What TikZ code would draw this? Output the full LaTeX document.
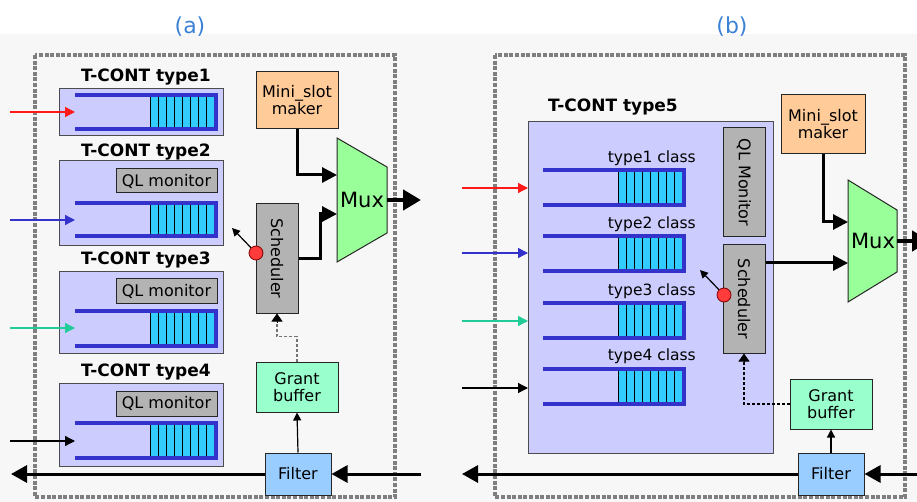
\documentclass[tikz,border=0pt]{standalone}
\usepackage{fontspec}
\setmainfont{DejaVu Sans}
\usetikzlibrary{arrows.meta}
\definecolor{tcfill}{HTML}{CCCCFF}
\definecolor{qblue}{HTML}{3333CC}
\definecolor{cellc}{HTML}{33CCFF}
\definecolor{qlgray}{HTML}{B3B3B3}
\definecolor{minic}{HTML}{FFCC99}
\definecolor{grantc}{HTML}{99FFCC}
\definecolor{filterc}{HTML}{99CCFF}
\definecolor{muxc}{HTML}{99FF99}
\definecolor{framec}{HTML}{7F7F7F}
\definecolor{titlec}{HTML}{3B82D6}
\definecolor{arred}{HTML}{FF1A1A}
\definecolor{arblue}{HTML}{3333CC}
\definecolor{arteal}{HTML}{22CC99}
\definecolor{dotred}{HTML}{FF3B3B}
\definecolor{bgc}{HTML}{F7F7F7}

% FIFO queue: left end, right bar, first cell, top bar, bottom bar
\newcommand\fifoq[5]{%
  \fill[cellc] (#3,#4) rectangle (#2,#5);
  \foreach \k in {0,...,7}
    \draw[line width=1pt] ({#3+8*\k},#4) -- ({#3+8*\k},#5);
  \draw[qbar] (#1,#4) -- (#2,#4) -- (#2,#5) -- (#1,#5);
}

\begin{document}
\begin{tikzpicture}[x=1pt,y=-1pt,
  frm/.style={draw=framec, line width=3.5pt, dash pattern=on 4pt off 1.6pt},
  tcbox/.style={draw=black!70, fill=tcfill, line width=0.9pt, inner sep=0pt},
  tclabel/.style={font=\fontsize{17}{20}\selectfont\bfseries, anchor=base, inner sep=0pt},
  clslabel/.style={font=\fontsize{15.5}{18}\selectfont, anchor=base east, inner sep=0pt},
  blk/.style={draw=black!85, line width=1pt, inner sep=0pt, align=center,
    font=\fontsize{16}{17}\selectfont},
  qlbox/.style={blk, fill=qlgray},
  qbar/.style={draw=qblue, line width=4pt, line join=miter},
  inarr/.style={line width=1.3pt, -{Triangle[length=10pt,width=10pt]}},
  thk/.style={line width=3pt, -{Triangle[length=15pt,width=15pt]}},
  outarr/.style={line width=4.5pt, -{Triangle[length=18pt,width=20pt]}},
  bus/.style={line width=3pt, -{Triangle[length=16pt,width=17pt]}},
  thn/.style={line width=1.2pt, -{Triangle[length=8pt,width=8pt]}},
  uphead/.style={line width=1pt, -{Triangle[length=8pt,width=11pt]}},
  dotc/.style={circle, draw=red!50!black, fill=dotred, line width=0.8pt,
    minimum size=14pt, inner sep=0pt},
  title/.style={text=titlec, font=\fontsize{22}{24}\selectfont}
]
\useasboundingbox (0,0) rectangle (917,502);
\fill[white] (0,0) rectangle (917,502);
\fill[bgc] (0,34) rectangle (917,502);

% ---------------- (a) ----------------
\node[title] (ta) at (190,27) {(a)};
\draw[frm] (35,55) rectangle (395,497);

\node[tclabel] (l1) at (146,82) {T-CONT type1};
\node[tcbox, minimum width=164pt, minimum height=47pt] (t1) at (141,111.5) {};
\node[tclabel] (l2) at (146,157) {T-CONT type2};
\node[tcbox, minimum width=164pt, minimum height=85pt] (t2) at (141,202.5) {};
\node[tclabel] (l3) at (146,265) {T-CONT type3};
\node[tcbox, minimum width=164pt, minimum height=82pt] (t3) at (141,312) {};
\node[tclabel] (l4) at (146,376) {T-CONT type4};
\node[tcbox, minimum width=164pt, minimum height=83pt] (t4) at (141,424.5) {};

\node[qlbox, minimum width=101pt, minimum height=24pt] (q2) at (166.5,181) {QL monitor};
\node[qlbox, minimum width=101pt, minimum height=24pt] (q3) at (166.5,291) {QL monitor};
\node[qlbox, minimum width=101pt, minimum height=25pt] (q4) at (166.5,403.5) {QL monitor};

\fifoq{75}{216}{150}{95}{129}
\fifoq{75}{216}{150}{203}{236}
\fifoq{75}{216}{150}{311}{346}
\fifoq{75}{216}{150}{423}{458}

\coordinate (a1s) at (10,112);  \coordinate (a1e) at (75,112);
\coordinate (a2s) at (10,220);  \coordinate (a2e) at (75,220);
\coordinate (a3s) at (10,328);  \coordinate (a3e) at (75,328);
\coordinate (a4s) at (10,441);  \coordinate (a4e) at (75,441);
\draw[inarr, arred] (a1s) -- (a1e);
\draw[inarr, arblue] (a2s) -- (a2e);
\draw[inarr, arteal] (a3s) -- (a3e);
\draw[inarr, black] (a4s) -- (a4e);

\node[blk, fill=minic, minimum width=82pt, minimum height=57pt] (miniA) at (297,100.5) {Mini\_slot\\maker};
\node[blk, fill=qlgray, minimum width=42pt, minimum height=109pt] (schA) at (277,258.5) {\rotatebox{-90}{Scheduler}};
\node[blk, fill=grantc, minimum width=82pt, minimum height=50pt] (grA) at (297,387) {Grant\\buffer};
\node[blk, fill=filterc, minimum width=66pt, minimum height=42pt] (filA) at (298,474) {Filter};

% multiplexer
\draw[fill=muxc, draw=black!85, line width=1pt] (337,138) -- (387,167) -- (387,233) -- (337,262) -- cycle;
\node[font=\fontsize{21}{24}\selectfont, inner sep=0pt] (muxA) at (362,200) {Mux};
\coordinate (muxAin1) at (337,175);
\coordinate (muxAin2) at (337,214);
\coordinate (muxAout) at (387,200);
\coordinate (outA) at (421,200);

\draw[thk] (miniA.south) |- (muxAin1);
\draw[thk] (schA.east) -- ++(22,0) |- (muxAin2);
\draw[outarr] (muxAout) -- (outA);

\node[dotc] (rcA) at (256,253) {};
\coordinate (rcAt) at (232,228);
\draw[thn] (rcA) -- (rcAt);

\draw[thn] (filA.north) -- (grA.south);
\draw[line width=1.5pt, draw=black!55, dash pattern=on 3pt off 2pt]
  (grA.north) -- ++(0,-25) -| ([yshift=-8pt]schA.south);
\draw[uphead] ([yshift=-9pt]schA.south) -- (schA.south);

\coordinate (busAin) at (421,474);
\coordinate (busAout) at (11,474);
\draw[bus] (busAin) -- (filA.east);
\draw[bus] (filA.west) -- (busAout);

% ---------------- (b) ----------------
\node[title] (tb) at (732,27) {(b)};
\draw[frm] (495,55) rectangle (905,497);

\node[tclabel] (l5) at (613,112) {T-CONT type5};
\node[tcbox, minimum width=245pt, minimum height=332pt] (t5) at (650.5,287) {};

\node[clslabel] (c1) at (696,163) {type1 class};
\node[clslabel] (c2) at (696,229) {type2 class};
\node[clslabel] (c3) at (696,295) {type3 class};
\node[clslabel] (c4) at (696,360) {type4 class};

\fifoq{543}{684}{618}{170}{205}
\fifoq{543}{684}{618}{236}{271}
\fifoq{543}{684}{618}{303}{338}
\fifoq{543}{684}{618}{369}{404}

\coordinate (b1s) at (462,188);  \coordinate (b1e) at (528,188);
\coordinate (b2s) at (462,253);  \coordinate (b2e) at (528,253);
\coordinate (b3s) at (462,321);  \coordinate (b3e) at (528,321);
\coordinate (b4s) at (462,388);  \coordinate (b4e) at (528,388);
\draw[inarr, arred] (b1s) -- (b1e);
\draw[inarr, arblue] (b2s) -- (b2e);
\draw[inarr, arteal] (b3s) -- (b3e);
\draw[inarr, black] (b4s) -- (b4e);

\node[qlbox, minimum width=42pt, minimum height=109pt] (qB) at (744,182.5) {\rotatebox{-90}{QL Monitor}};
\node[blk, fill=qlgray, minimum width=42pt, minimum height=108pt] (schB) at (744,299) {\rotatebox{-90}{Scheduler}};
\node[blk, fill=minic, minimum width=84pt, minimum height=59pt] (miniB) at (823,124.5) {Mini\_slot\\maker};
\node[blk, fill=grantc, minimum width=82pt, minimum height=50pt] (grB) at (831,404) {Grant\\buffer};
\node[blk, fill=filterc, minimum width=66pt, minimum height=42pt] (filB) at (831,474) {Filter};

\draw[fill=muxc, draw=black!85, line width=1pt] (848,180) -- (897,210) -- (897,272) -- (848,302) -- cycle;
\node[font=\fontsize{21}{24}\selectfont, inner sep=0pt] (muxB) at (873,241) {Mux};
\coordinate (muxBin1) at (848,222);
\coordinate (muxBin2) at (848,263);
\coordinate (muxBout) at (897,241);
\coordinate (outB) at (930,241);

\draw[thk] (miniB.south) |- (muxBin1);
\draw[thk] (schB.east |- muxBin2) -- (muxBin2);
\draw[outarr] (muxBout) -- (outB);

\node[dotc] (rcB) at (724,295) {};
\coordinate (rcBt) at (700,270);
\draw[thn] (rcB) -- (rcBt);

\draw[thn] (filB.north) -- (grB.south);
\draw[line width=1.2pt, dash pattern=on 3pt off 2pt] (grB.west) -| ([yshift=-8pt]schB.south);
\draw[uphead] ([yshift=-9pt]schB.south) -- (schB.south);

\coordinate (busBin) at (935,474);
\coordinate (busBout) at (462,474);
\draw[bus] (busBin) -- (filB.east);
\draw[bus] (filB.west) -- (busBout);
\end{tikzpicture}
\end{document}
